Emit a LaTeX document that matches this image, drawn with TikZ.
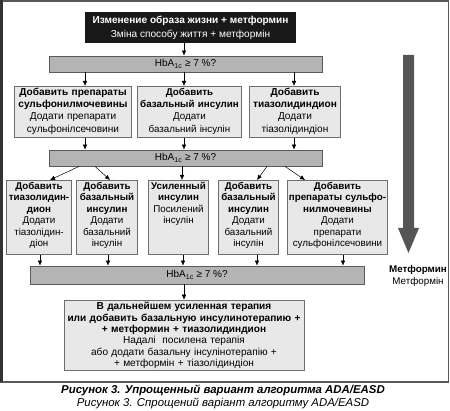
\documentclass[tikz,border=0pt]{standalone}
\usepackage{fontspec}
\setmainfont{Liberation Sans}
\usepackage{tikz}
\usetikzlibrary{arrows.meta,positioning,calc}
\usepackage{xcolor}

\definecolor{boxfill}{HTML}{E8E8E8}
\definecolor{boxline}{HTML}{6E6E6E}
\definecolor{checkfill}{HTML}{B4B4B4}
\definecolor{checkline}{HTML}{5A5A5A}
\definecolor{bigarrow}{HTML}{555555}

\begin{document}
\begin{tikzpicture}[x=1pt, y=-1pt,
    box/.style={rectangle, draw=boxline, fill=boxfill, line width=0.9pt, align=center,
        inner xsep=1pt, inner ysep=2pt, font=\fontsize{9.8}{11.4}\selectfont},
    wide/.style={font=\fontsize{10.1}{12.2}\selectfont},
    check/.style={rectangle, draw=checkline, fill=checkfill, line width=0.8pt,
        inner sep=0pt, font=\fontsize{10}{11}\selectfont},
    arrow/.style={-{Latex[length=5pt,width=4.5pt]}, line width=0.5pt}
]
\useasboundingbox (0,0) rectangle (450,411);

% frame
\draw[black!65, line width=1.2pt] (1,1) rectangle (448.5,382);
\draw[black!80, line width=2.5pt] (1.25,0) -- (1.25,382.5);

\coordinate (spine) at (184,0);

% start
\node[rectangle, fill=black!90, text=white, align=center, minimum width=211pt, minimum height=31pt,
    inner sep=0pt, font=\fontsize{10.1}{14}\selectfont] (start) at (190.5,27.5)
    {\textbf{Изменение образа жизни + метформин}\\Зміна способу життя + метформін};

% first check
\node[check, minimum width=273pt, minimum height=16pt] (hba1) at (185.5,64) {HbA\textsubscript{1c} ≥ 7 \%?};

% first step
\node[box, wide, anchor=north, text width=115pt, text height=7pt, text depth=40pt] (sulf) at (73,86) {
    \textbf{Добавить препараты}\\
    \textbf{сульфонилмочевины}\\
    Додати препарати\\
    сульфонілсечовини};
\node[box, wide, anchor=north, inner xsep=0.5pt, text width=103pt, text height=7pt, text depth=40pt,
    font=\fontsize{9.8}{12.2}\selectfont] (bas) at (189.5,86) {
    \textbf{Добавить}\\
    \textbf{базальный инсулин}\\
    Додати\\
    базальний інсулін};
\node[box, wide, anchor=north, text width=89pt, text height=7pt, text depth=40pt] (tzd) at (295,86) {
    \textbf{Добавить}\\
    \textbf{тиазолидиндион}\\
    Додати\\
    тіазолідиндіон};

% second check
\node[check, minimum width=273pt, minimum height=16pt] (hba2) at (185.5,158) {HbA\textsubscript{1c} ≥ 7 \%?};

% second step
\node[box, anchor=north, text width=63pt, text height=7pt, text depth=63pt] (tzdb) at (39,180) {
    \textbf{Добавить}\\
    \textbf{тиазолидин-}\\
    \textbf{дион}\\
    Додати\\
    тіазолідин-\\
    діон};
\node[box, anchor=north, text width=59pt, text height=7pt, text depth=63pt] (basa) at (107,180) {
    \textbf{Добавить}\\
    \textbf{базальный}\\
    \textbf{инсулин}\\
    Додати\\
    базальний\\
    інсулін};
\node[box, anchor=north, text width=58pt, text height=7pt, text depth=63pt] (ins) at (178.5,180) {
    \textbf{Усиленный}\\
    \textbf{инсулин}\\
    Посилений\\
    інсулін};
\node[box, anchor=north, text width=58pt, text height=7pt, text depth=63pt] (basb) at (248.5,180) {
    \textbf{Добавить}\\
    \textbf{базальный}\\
    \textbf{инсулин}\\
    Додати\\
    базальний\\
    інсулін};
\node[box, anchor=north, text width=98pt, text height=7pt, text depth=63pt] (sulfb) at (337.5,180) {
    \textbf{Добавить}\\
    \textbf{препараты сульфо-}\\
    \textbf{нилмочевины}\\
    Додати\\
    препарати\\
    сульфонілсечовини};

% third check
\node[check, minimum width=334pt, minimum height=18pt] (hba3) at (197,275) {HbA\textsubscript{1c} ≥ 7 \%?};

% final step
\node[box, minimum width=240pt, minimum height=70pt, text width=237pt,
    font=\fontsize{10.1}{11.4}\selectfont] (final) at (184,335.5) {
    \textbf{В дальнейшем усиленная терапия}\\
    \textbf{или добавить базальную инсулинотерапию +}\\
    \textbf{+ метформин + тиазолидиндион}\\
    Надалі\ \ посилена терапія\\
    або додати базальну інсулінотерапію +\\
    + метформін + тіазолідиндіон};

% metformin column
\fill[bigarrow] (403,55) -- (414,55) -- (414,228) -- (419,228) -- (408.5,253) -- (398,228) -- (403,228) -- cycle;
\node[align=center, font=\fontsize{9.8}{12.5}\selectfont] (metf) at (418,276) {\textbf{Метформин}\\Метформін};

% caption
\node[align=center, font=\fontsize{11.4}{13}\selectfont\itshape] (cap) at (223,397)
    {\textbf{Рисунок 3. Упрощенный вариант алгоритма ADA/EASD}\\Рисунок 3. Спрощений варіант алгоритму ADA/EASD};

% connectors
\draw[arrow] (start.south -| spine) -- (hba1.north -| spine);
\draw[arrow] ([xshift=12pt]sulf.north |- hba1.south) -- ([xshift=12pt]sulf.north);
\draw[arrow] (hba1.south -| spine) -- (bas.north -| spine);
\draw[arrow] ([xshift=-1pt]tzd.north |- hba1.south) -- ([xshift=-1pt]tzd.north);

\draw[arrow] ([xshift=12pt]sulf.south) -- ([xshift=12pt]sulf.south |- hba2.north);
\draw[arrow] (bas.south -| spine) -- (hba2.north -| spine);
\draw[arrow] ([xshift=-1pt]tzd.south) -- ([xshift=-1pt]tzd.south |- hba2.north);

\draw[arrow] ([xshift=-106.5pt]hba2.south) -- ([xshift=11pt]tzdb.north);
\draw[arrow] ([xshift=-90.5pt]hba2.south) -- ([xshift=3pt]basa.north);
\draw[arrow] ([xshift=3.5pt]ins.north |- hba2.south) -- ([xshift=3.5pt]ins.north);
\draw[arrow] ([xshift=81.5pt]hba2.south) -- ([xshift=8.5pt]basb.north);
\draw[arrow] ([xshift=99.5pt]hba2.south) -- ([xshift=-32.5pt]sulfb.north);

\draw[arrow] ([xshift=1pt]tzdb.south) -- ([xshift=1pt]tzdb.south |- hba3.north);
\draw[arrow] ([xshift=1pt]basa.south) -- ([xshift=1pt]basa.south |- hba3.north);
\draw[arrow] ([xshift=4.5pt]ins.south) -- ([xshift=4.5pt]ins.south |- hba3.north);
\draw[arrow] ([xshift=8.5pt]basb.south) -- ([xshift=8.5pt]basb.south |- hba3.north);
\draw[arrow] ([xshift=5.5pt]sulfb.south) -- ([xshift=5.5pt]sulfb.south |- hba3.north);

\draw[arrow] (hba3.south -| spine) -- (final.north -| spine);

\end{tikzpicture}
\end{document}
